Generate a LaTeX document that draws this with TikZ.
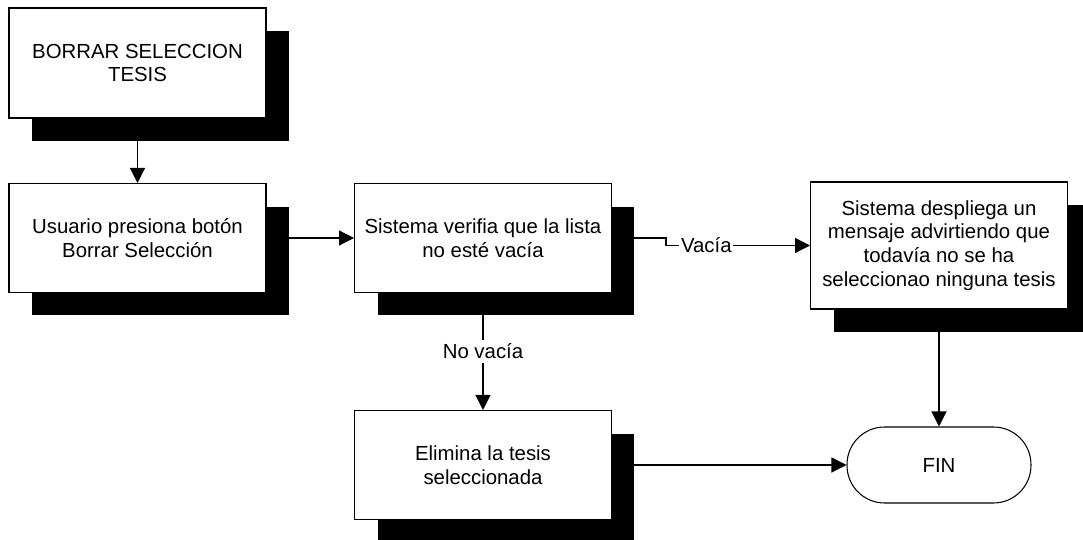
\documentclass[tikz,border=0pt]{standalone}
\usepackage{fontspec}
\setmainfont{Liberation Sans}
\usetikzlibrary{arrows.meta,shadows}
\begin{document}
\begin{tikzpicture}[x=0.02cm,y=-0.02cm,font=\fontsize{11.6}{13.4}\selectfont,
  caja/.style={draw,fill=white,line width=0.6pt,minimum width=5.14cm,minimum height=2.18cm,align=center,
    drop shadow={shadow xshift=0.46cm,shadow yshift=-0.46cm,fill=black,opacity=1}},
  flecha/.style={-{Triangle[length=0.3cm,width=0.3cm]},line width=0.7pt}]
\useasboundingbox (0,0) rectangle (1083,540);
\node[caja,minimum height=2.2cm] (titulo) at (137.5,63) {BORRAR SELECCION\\TESIS};
\node[caja] (usuario) at (137.5,238) {Usuario presiona botón\\Borrar Selección};
\node[caja] (verifica) at (483,238) {Sistema verifia que la lista\\no esté vacía};
\node[caja,minimum height=2.54cm] (mensaje) at (939,245.5) {Sistema despliega un\\mensaje advirtiendo que\\todavía no se ha\\seleccionao ninguna tesis};
\node[caja] (elimina) at (483,465) {Elimina la tesis\\seleccionada};
\node[draw,line width=0.6pt,rounded corners=0.75cm,minimum width=3.68cm,minimum height=1.52cm] (fin) at (939,465) {FIN};
\foreach \a/\b in {titulo/usuario,usuario/verifica,mensaje/fin,elimina/fin}
  \draw[flecha] (\a) -- (\b);
\draw[flecha] (verifica) -- (elimina) node[midway,fill=white,inner sep=2pt] {No vacía};
\draw[flecha] (verifica.east) -- ++(54,0) |- (mensaje.west) node[pos=0.64,fill=white,inner sep=1pt] {Vacía};
\end{tikzpicture}
\end{document}
